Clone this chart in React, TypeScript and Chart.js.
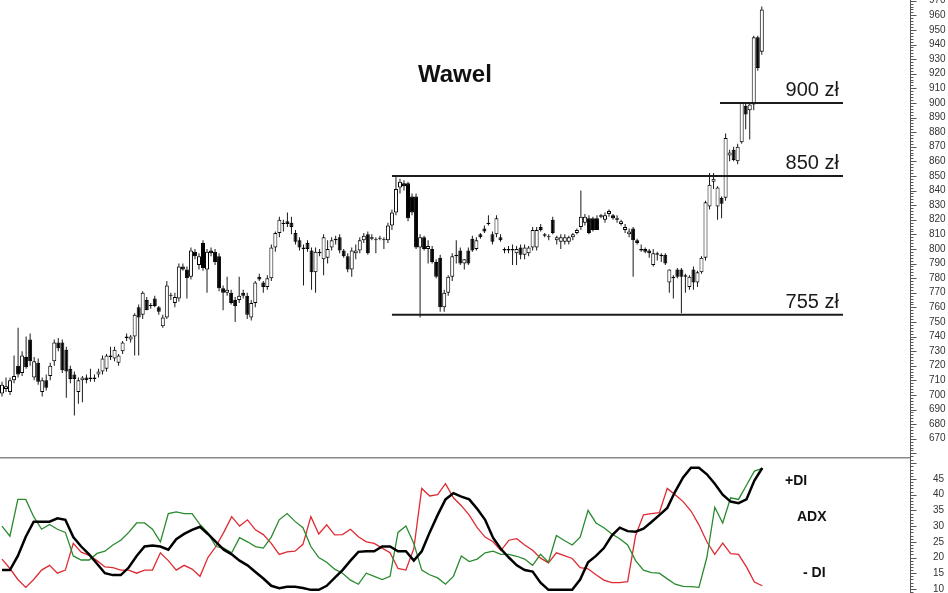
import React, { useEffect, useRef } from "react";
import { Chart, registerables } from "chart.js";
Chart.register(...registerables);

// ---- Price candles (Wawel) ----
const opens = [
  701,704,702,710,720,715,726,738,712,722,702,710,713,723,736,736,731,718,714,702,710,712,711,711,714,716,718,727,725,722,730,739,738,740,760,755,765,
  761,766,760,747,753,768,763,766,788,786,781,798,789,804,786,799,798,795,773,770,770,765,765,770,768,753,763,781,777,774,780,801,811,817,819,818,811,806,801,
  804,799,784,798,793,794,801,806,808,799,
  795,786,797,799,806,810,808,806,807,806,
  806,816,825,842,845,845,836,836,801,808,
  800,800,791,794,760,770,781,795,799,790,
  799,807,800,810,814,818,810,810,808,800,
  799,799,797,801,796,797,801,801,815,810,
  808,820,806,805,805,805,808,811,815,818,
  821,821,821,823,820,824,823,821,817,813,
  810,814,806,800,800,799,789,797,796,796,
  777,781,786,786,781,774,786,777,784,794,
  829,846,829,835,835,864,868,860,873,898,
  895,899,945,935
];
const highs = [
  709,712,712,727,746,730,740,742,726,725,712,714,722,738,739,738,733,720,716,712,713,714,718,714,718,727,728,733,733,728,737,742,741,756,762,771,767,
  763,768,761,755,778,770,770,790,790,788,801,800,797,806,800,801,800,797,775,781,772,767,781,772,770,765,778,783,778,782,803,812,822,820,825,822,813,808,803,
  806,801,801,800,810,806,808,809,810,800,
  797,801,803,808,811,812,810,808,809,808,
  818,827,850,848,847,846,838,838,810,809,
  806,802,793,796,772,782,797,806,801,793,
  801,809,808,811,816,823,812,823,810,801,
  802,803,802,803,803,802,815,815,817,811,
  810,822,809,810,810,809,811,814,840,824,
  823,822,823,824,825,827,824,823,820,817,
  814,815,807,803,801,800,800,798,797,797,
  786,782,787,787,783,782,788,785,795,833,
  852,852,843,836,879,868,870,872,900,900,
  900,946,946,966
];
const lows = [
  699,702,700,708,712,713,718,720,710,707,699,703,710,720,730,715,698,708,686,694,695,708,709,709,712,714,716,724,723,720,728,737,736,727,727,752,758,
  759,760,755,746,752,765,760,764,785,766,779,793,786,785,770,795,789,771,758,768,762,750,763,766,752,751,760,778,770,772,778,798,808,812,815,810,803,799,775,
  798,772,770,795,782,790,799,803,797,794,
  784,781,793,797,804,796,806,797,806,800,
  804,813,823,838,840,819,823,800,753,799,
  790,790,780,757,757,768,778,790,789,786,
  789,798,799,807,811,816,803,808,805,797,
  797,789,789,793,793,795,799,799,812,808,
  806,810,803,800,803,803,806,810,813,816,
  810,812,813,821,818,822,820,818,816,811,
  808,781,803,798,797,794,788,792,791,789,
  770,766,780,756,770,772,772,774,783,792,
  827,841,820,821,833,860,860,858,872,882,
  875,895,922,933
];
const closes = [
  707,706,710,713,714,727,719,723,723,709,710,705,720,736,732,717,716,711,711,710,712,710,712,712,716,725,727,726,731,727,736,740,740,755,753,770,758,
  761,761,757,753,775,768,767,788,786,780,799,795,795,787,798,797,791,773,770,772,763,761,768,768,755,763,777,779,774,780,801,811,820,818,817,815,805,801,800,
  800,784,798,797,808,800,806,807,799,795,
  786,799,799,806,809,797,807,806,807,806,
  816,825,841,846,843,821,825,801,808,800,
  802,791,781,760,770,781,795,796,790,793,
  790,799,806,808,812,817,805,821,806,799,
  800,800,800,796,801,801,813,813,813,809,
  808,811,808,808,808,808,810,813,822,822,
  811,813,813,822,823,826,821,820,819,815,
  812,806,804,799,798,797,797,796,795,790,
  786,780,781,781,782,781,777,784,794,832,
  844,848,842,831,876,866,861,870,900,892,
  899,945,924,964
];

// ---- Horizontal levels ----
const levels = [900, 850, 755];
const levelLabels = ["900 zł", "850 zł", "755 zł"];
const levelStarts = [178.6, 97, 97];
const levelEnds = [209.2, 209.2, 209.2];
const levelLabelIndex = 208.2;
const chartTitle = "Wawel";

// ---- DMI indicator (sampled every second session) ----
const adx = [
  16,16,20.5,26.6,31.4,31.4,31.4,32.5,32,26.5,
  23.5,21,18,15,14.4,14.4,16.8,20.5,23.5,23.8,
  23.5,22.5,25.8,27.5,28.8,29.8,27.5,25,22.5,21,
  19,17.5,15.4,13.3,11,10.2,10.7,10.7,10.3,9.7,
  9.7,11,13.5,16,19,21.8,22,22,23.5,23.5,
  22,22,19,22,28,33.5,38.5,40.5,39.4,38.5,
  35.5,32,26.3,22.7,20,17.5,16,15.5,12,9.7,
  9.7,9.7,9.7,13,18.5,20.5,23,27,29.5,28.4,
  28.2,29.2,31.3,33.5,35.8,41,45.5,48.6,48.6,46.5,
  43.5,40,37.8,37.3,38.5,44.5,48.5
];
const plusDI = [
  30,26.8,38.5,38.5,33,29,30.5,29,28,20.5,
  19.2,19.2,21.3,22,24,25.5,28,31,31,29,
  25,34,34.5,34,34,30.5,27.8,23.5,23,21.5,
  26.3,25,23.5,23,26.5,32,34,31.5,29.5,23.5,
  20,18.5,16.3,15,12.8,11.5,15,14,13,14,
  28,30,24.5,16,14.5,13.5,11.5,14,20.5,18.7,
  19.5,21.5,22,21,21,20.4,19.5,17.5,21,18.5,
  27,25.4,24,26.5,35,31,29.5,27.5,26,24,
  19,16,15.2,15,13.2,11.5,10.8,10.7,10.5,20,
  36,31,39,38.5,43,47.5,48.4
];
const minusDI = [
  19.5,16.5,13,10.5,13,16,17.5,15,16,24.5,
  21.7,20.7,19,17,16.8,16,16,15,16,16,
  21.5,19,16,17.5,16.3,14,20,23.5,28,33,
  30,32,28.8,27.3,24.5,21,21.8,22,24.2,33,
  27.5,30.4,27.2,27.3,29,26.6,25,24.5,23,21.5,
  16.5,16,22.8,42,39.6,40,43.5,39,36.5,33.5,
  29.5,26.5,25,22.2,25.5,26,24,22.3,19.8,18.3,
  21.5,20.6,19.7,16.8,16.4,14.5,12.8,12,12,12.3,
  27,33.6,34,34.3,42,40,37.8,34.8,30.4,25,
  21,24.6,21.2,21,17,12.2,11
];
const indicatorLabels = ["+DI", "ADX", "- DI"];

const FONT = "'Liberation Sans', Arial, sans-serif";

export default function App() {
  const topRef = useRef<HTMLCanvasElement>(null);
  const botRef = useRef<HTMLCanvasElement>(null);

  useEffect(() => {
    const bodyData = opens.map((o, i) => ({ x: i, y: [o, closes[i]] }));
    const wickData = opens.map((_, i) => ({ x: i, y: [lows[i], highs[i]] }));
    const bodyColors = opens.map((o, i) => (closes[i] >= o ? "#ffffff" : "#000000"));

    const topDecor = {
      id: "topDecor",
      afterDraw(chart: any) {
        const { ctx, chartArea, scales } = chart;
        const ys = scales.y;
        const xs = scales.x;
        ctx.save();
        const ax = Math.round(chartArea.right) + 0.5;
        ctx.strokeStyle = "#555";
        ctx.lineWidth = 1;
        ctx.beginPath();
        ctx.moveTo(ax, 0);
        ctx.lineTo(ax, chart.height);
        ctx.stroke();
        for (let v = 658; v <= 970; v += 2) {
          const py = Math.round(ys.getPixelForValue(v)) + 0.5;
          const len = v % 10 === 0 ? 6 : 3;
          ctx.beginPath();
          ctx.moveTo(ax, py);
          ctx.lineTo(ax + len, py);
          ctx.stroke();
        }
        ctx.fillStyle = "#1a1a1a";
        ctx.font = `20px ${FONT}`;
        ctx.textAlign = "right";
        ctx.textBaseline = "alphabetic";
        levels.forEach((lv, j) => {
          ctx.fillText(levelLabels[j], xs.getPixelForValue(levelLabelIndex), ys.getPixelForValue(lv) - 7);
        });
        ctx.font = `bold 24px ${FONT}`;
        ctx.textAlign = "left";
        ctx.fillStyle = "#111";
        ctx.fillText(chartTitle, 418, 82);
        ctx.restore();
      },
    };

    const botDecor = {
      id: "botDecor",
      afterDraw(chart: any) {
        const { ctx, chartArea, scales } = chart;
        const ys = scales.y;
        ctx.save();
        const ax = Math.round(chartArea.right) + 0.5;
        ctx.strokeStyle = "#888";
        ctx.lineWidth = 1.5;
        ctx.beginPath();
        ctx.moveTo(0, 0.75);
        ctx.lineTo(ax, 0.75);
        ctx.stroke();
        ctx.strokeStyle = "#555";
        ctx.lineWidth = 1;
        ctx.beginPath();
        ctx.moveTo(ax, 0);
        ctx.lineTo(ax, chart.height);
        ctx.stroke();
        for (let v = 9; v <= 51; v += 1) {
          const py = Math.round(ys.getPixelForValue(v)) + 0.5;
          const len = v % 5 === 0 ? 6 : 3;
          ctx.beginPath();
          ctx.moveTo(ax, py);
          ctx.lineTo(ax + len, py);
          ctx.stroke();
        }
        ctx.fillStyle = "#111";
        ctx.font = `bold 14px ${FONT}`;
        ctx.textAlign = "left";
        ctx.textBaseline = "middle";
        ctx.fillText(indicatorLabels[0], 785, 24);
        ctx.fillText(indicatorLabels[1], 797, 60);
        ctx.fillText(indicatorLabels[2], 803, 116);
        ctx.restore();
      },
    };

    const priceLabel = (value: any) => {
      const v = Number(value);
      const r = Math.round(v);
      return Math.abs(v - r) < 1e-6 && r % 10 === 0 && r >= 670 && r <= 970 ? String(r) : "";
    };
    const dmiLabel = (value: any) => {
      const v = Number(value);
      const r = Math.round(v);
      return Math.abs(v - r) < 1e-6 && r % 5 === 0 && r >= 10 && r <= 45 ? String(r) : "";
    };

    const top = new Chart(topRef.current as HTMLCanvasElement, {
      type: "bar",
      data: {
        datasets: [
          ...levels.map((lv, j) => ({
            type: "line" as const,
            data: [
              { x: levelStarts[j], y: lv },
              { x: levelEnds[j], y: lv },
            ],
            borderColor: "#1c1c1c",
            borderWidth: 2,
            pointRadius: 0,
            fill: false,
            order: 1,
          })),
          {
            type: "bar" as const,
            data: bodyData as any,
            backgroundColor: bodyColors,
            borderColor: "#000000",
            borderWidth: 1,
            borderSkipped: false,
            barThickness: 4,
            grouped: false,
            minBarLength: 1,
            inflateAmount: 0,
            order: 2,
          },
          {
            type: "bar" as const,
            data: wickData as any,
            backgroundColor: "#1a1a1a",
            borderWidth: 0,
            barThickness: 1,
            grouped: false,
            inflateAmount: 0,
            order: 3,
          },
        ] as any,
      },
      options: {
        responsive: false,
        animation: false,
        events: [],
        layout: { padding: 0 },
        plugins: { legend: { display: false }, tooltip: { enabled: false } },
        scales: {
          x: { type: "linear", display: false, min: -0.4975, max: 225.87, offset: false },
          y: {
            type: "linear",
            position: "right",
            min: 657.5,
            max: 970.5,
            grid: { display: false },
            border: { display: false },
            ticks: {
              stepSize: 10,
              autoSkip: false,
              includeBounds: false,
              padding: 11,
              color: "#333",
              font: { size: 10, family: FONT },
              callback: priceLabel,
            },
            afterFit: (s: any) => {
              s.width = 38;
              s.paddingTop = 0;
              s.paddingBottom = 0;
            },
          },
        },
      } as any,
      plugins: [topDecor],
    });

    const idx = adx.map((_, k) => k);
    const bot = new Chart(botRef.current as HTMLCanvasElement, {
      type: "line",
      data: {
        datasets: [
          {
            data: idx.map((k) => ({ x: k, y: adx[k] })),
            borderColor: "#000000",
            borderWidth: 2.5,
            pointRadius: 0,
            tension: 0,
            order: 1,
          },
          {
            data: idx.map((k) => ({ x: k, y: plusDI[k] })),
            borderColor: "#2a8a2e",
            borderWidth: 1.3,
            pointRadius: 0,
            tension: 0,
            order: 2,
          },
          {
            data: idx.map((k) => ({ x: k, y: minusDI[k] })),
            borderColor: "#df2a32",
            borderWidth: 1.3,
            pointRadius: 0,
            tension: 0,
            order: 3,
          },
        ],
      },
      options: {
        responsive: false,
        animation: false,
        events: [],
        layout: { padding: 0 },
        plugins: { legend: { display: false }, tooltip: { enabled: false } },
        scales: {
          x: { type: "linear", display: false, min: -0.2525, max: 114.65, offset: false },
          y: {
            type: "linear",
            position: "right",
            min: 8.7,
            max: 52,
            grid: { display: false },
            border: { display: false },
            ticks: {
              stepSize: 5,
              autoSkip: false,
              includeBounds: false,
              padding: 15,
              color: "#333",
              font: { size: 10, family: FONT },
              callback: dmiLabel,
            },
            afterFit: (s: any) => {
              s.width = 38;
              s.paddingTop = 0;
              s.paddingBottom = 0;
            },
          },
        },
      } as any,
      plugins: [botDecor],
    });

    return () => {
      top.destroy();
      bot.destroy();
    };
  }, []);

  return (
    <div
      style={{
        position: "absolute",
        left: 0,
        top: 0,
        width: 948,
        height: 593,
        background: "#ffffff",
        overflow: "hidden",
      }}
    >
      <canvas ref={topRef} width={948} height={457} style={{ display: "block", width: 948, height: 457 }} />
      <canvas ref={botRef} width={948} height={136} style={{ display: "block", width: 948, height: 136 }} />
    </div>
  );
}
